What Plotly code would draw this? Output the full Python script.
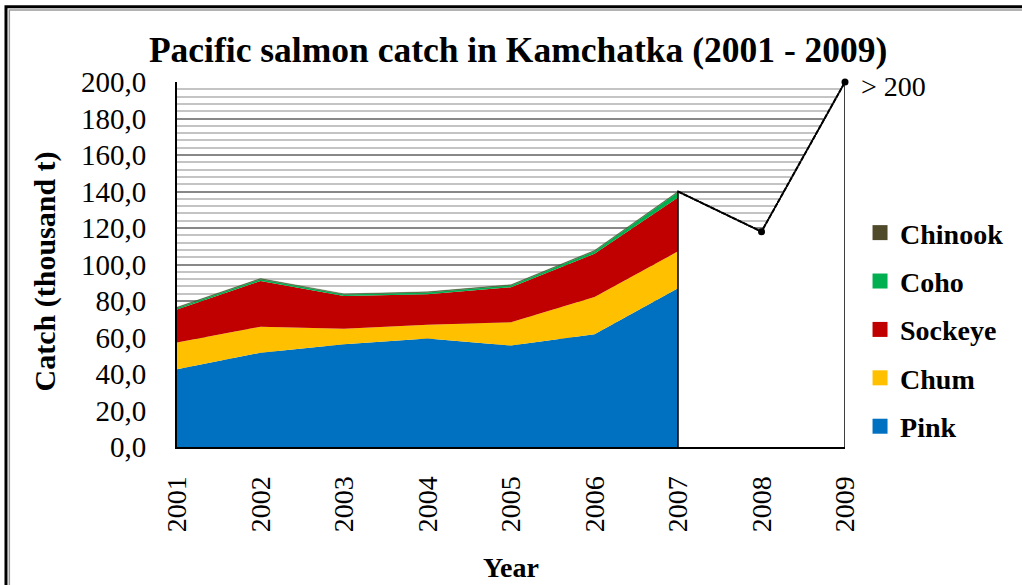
"""
Pacific salmon catch in Kamchatka, stacked area with the 2007-2009 total line
"""

import plotly.graph_objs as go

years = [2001, 2002, 2003, 2004, 2005, 2006, 2007, 2008, 2009]
stack_years = years[:7]

# catch by species, thousand t (2001-2007)
pink = [42.6, 51.7, 56.3, 59.4, 55.6, 61.8, 87.0]
chum = [14.6, 14.2, 8.5, 7.6, 12.8, 20.4, 20.2]
sockeye = [18.2, 25.1, 17.9, 16.7, 19.2, 23.7, 29.5]
coho = [0.8, 0.9, 0.8, 0.9, 0.9, 1.4, 2.9]
chinook = [0.4, 0.4, 0.4, 0.4, 0.4, 0.4, 0.4]

# total catch 2007-2009 (2009 is "> 200")
total_years = years[6:]
total = [140.0, 118.0, 200.0]

y_ticks = [0, 20, 40, 60, 80, 100, 120, 140, 160, 180, 200]
y_labels = ["0,0", "20,0", "40,0", "60,0", "80,0", "100,0", "120,0",
            "140,0", "160,0", "180,0", "200,0"]

series = [
    ("Pink", pink, "#0070C0"),
    ("Chum", chum, "#FFC000"),
    ("Sockeye", sockeye, "#C00000"),
    ("Coho", coho, "#00B050"),
    ("Chinook", chinook, "#4F4A2A"),
]

FONT = "Liberation Serif"

data = []

# stacked areas
for name, vals, color in series:
    data.append(go.Scatter(
        x=stack_years, y=vals,
        stackgroup="catch",
        mode="lines",
        line=dict(width=0.5 if name == "Chinook" else 0, color="#3c6e3c"),
        fillcolor=color,
        name=name,
        showlegend=False,
        hoverinfo="x+y+name",
    ))

# white area under the total line, outlined in black
data.append(go.Scatter(
    x=[total_years[0]] + total_years + [total_years[-1]],
    y=[0] + total + [0],
    fill="toself",
    fillcolor="white",
    mode="lines",
    line=dict(color="black", width=1.5),
    showlegend=False,
    hoverinfo="skip",
))

# the dashed total line and its points
data.append(go.Scatter(
    x=total_years, y=total,
    mode="lines",
    line=dict(color="black", width=2, dash="5px,1px"),
    showlegend=False,
    hoverinfo="skip",
))
data.append(go.Scatter(
    x=total_years[1:], y=total[1:],
    mode="markers",
    marker=dict(color="black", size=7),
    cliponaxis=False,
    showlegend=False,
))

# legend entries as squares (Chinook on top)
for i, (name, vals, color) in enumerate(series):
    data.append(go.Scatter(
        x=[None], y=[None],
        mode="markers",
        marker=dict(symbol="square", size=15, color=color),
        name="<b>%s</b>" % name,
        legendgroup=name,
        legendrank=10 - i,
    ))

layout = go.Layout(
    width=1022, height=585,
    margin=dict(l=177, r=177, t=82, b=138),
    paper_bgcolor="white",
    plot_bgcolor="white",
    font=dict(family=FONT, size=28, color="black"),
    title=dict(
        text="<b>Pacific salmon catch in Kamchatka (2001 - 2009)</b>",
        x=0.507, xanchor="center", y=0.915, yanchor="middle",
        font=dict(family=FONT, size=35.5, color="black"),
    ),
    xaxis=dict(
        range=[2001, 2009],
        tickvals=years,
        ticktext=[str(y) for y in years],
        tickangle=-90,
        showgrid=False,
        showline=True, linecolor="black", linewidth=2,
        ticks="", ticklabelstandoff=16,
        zeroline=False,
        tickfont=dict(family=FONT, size=28),
    ),
    yaxis=dict(
        range=[0, 200],
        tickvals=y_ticks,
        ticktext=y_labels,
        showgrid=True, gridcolor="#888888", gridwidth=1.5,
        minor=dict(dtick=4, showgrid=True, gridcolor="#c4c4c4", gridwidth=1.5),
        showline=True, linecolor="black", linewidth=2,
        ticks="", ticklabelstandoff=23,
        zeroline=False,
        tickfont=dict(family=FONT, size=29),
    ),
    legend=dict(
        x=1.0225, xanchor="left", y=0.655, yanchor="top",
        traceorder="grouped",
        tracegroupgap=9,
        font=dict(family=FONT, size=28, color="black"),
        itemwidth=30,
        bgcolor="rgba(0,0,0,0)",
    ),
    annotations=[
        dict(text="> 200", x=2009, y=200, xref="x", yref="y",
             xanchor="left", yanchor="middle", xshift=14, yshift=-4,
             showarrow=False,
             font=dict(family=FONT, size=28, color="black")),
        dict(text="<b>Catch (thousand t)</b>", textangle=-90,
             x=-0.1976, y=0.481, xref="paper", yref="paper",
             xanchor="center", yanchor="middle", showarrow=False,
             font=dict(family=FONT, size=30, color="black")),
        dict(text="<b>Year</b>", x=0.5, y=-0.329, xref="paper", yref="paper",
             xanchor="center", yanchor="middle", showarrow=False,
             font=dict(family=FONT, size=28, color="black")),
    ],
    shapes=[
        # outer frame
        dict(type="rect", xref="paper", yref="paper",
             x0=-0.256, x1=1.3, y0=-0.5, y1=1.206,
             line=dict(color="black", width=3), layer="above"),
        dict(type="rect", xref="paper", yref="paper",
             x0=-0.251, x1=1.3, y0=-0.5, y1=1.197,
             line=dict(color="#999999", width=1.5), layer="above"),
    ],
    showlegend=True,
)

fig = go.Figure(data=data, layout=layout)
# drop the page margin so the figure fills the window exactly
fig.write_html("out.html", config={"displayModeBar": False},
               post_script="document.body.style.margin = '0';")
